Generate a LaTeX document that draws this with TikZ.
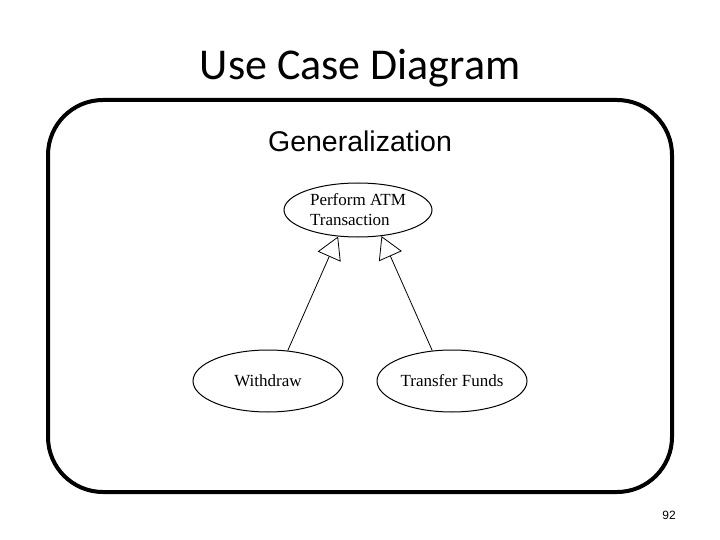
\documentclass[tikz,border=0pt]{standalone}
\usepackage{fontspec}
\setmainfont{Liberation Serif}
\newfontfamily\titlefont{Carlito}
\newfontfamily\labelfont{Liberation Sans}
\usetikzlibrary{arrows.meta,shapes.geometric}

\begin{document}
\begin{tikzpicture}
  [x=1pt,y=-1pt,every node/.style={inner sep=0pt},
   usecase/.style={ellipse,draw,line width=1pt,minimum width=150pt,minimum height=62pt,
     font=\fontsize{17}{20}\selectfont,align=left},
   generalize/.style={line width=0.8pt,-{Triangle[open,length=22pt,width=25pt]}}]
  \useasboundingbox (0,0) rectangle (720,540);
  \node[font=\titlefont\fontsize{44}{48}\selectfont] (title) at (360,68) {Use Case Diagram};
  \draw[line width=4pt,rounded corners=55pt] (48,100) rectangle (672,492);
  \node[font=\labelfont\fontsize{28.5}{32}\selectfont] (subtitle) at (360,141) {Generalization};
  \node[usecase,minimum width=148pt,minimum height=54pt] (perform) at (358,210) {Perform ATM\\Transaction};
  \node[usecase] (withdraw) at (268,381) {Withdraw};
  \node[usecase] (transfer) at (452,381) {Transfer Funds};

  \draw[generalize] (withdraw.57) -- (perform.233);
  \draw[generalize] (transfer.123) -- (perform.312);
  \node[font=\labelfont\fontsize{12}{14}\selectfont] (page) at (669,515) {92};
\end{tikzpicture}
\end{document}
